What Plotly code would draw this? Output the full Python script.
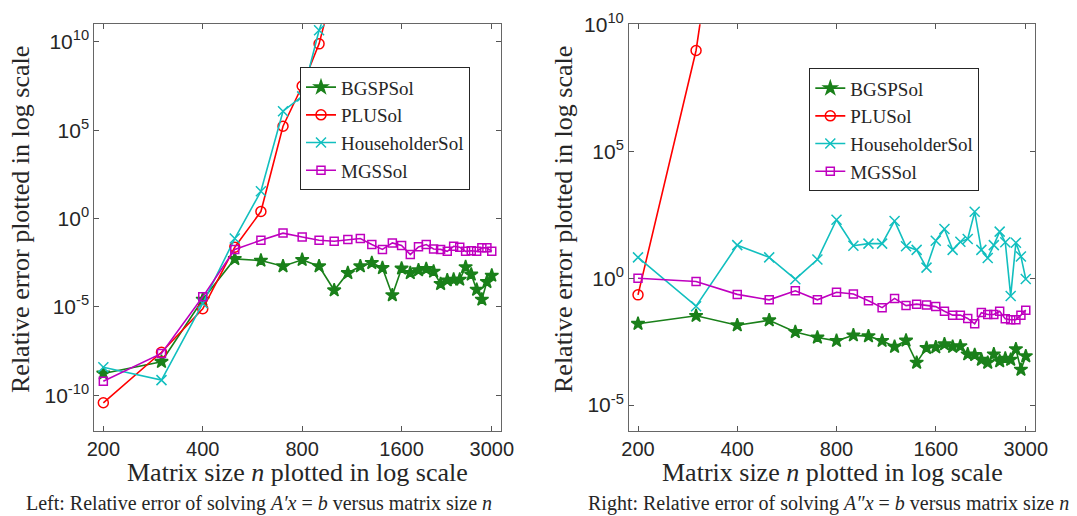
import plotly.graph_objects as go

# ---------------- data ----------------
n = [200, 300, 400, 500, 600, 700, 800, 900, 1000, 1100, 1200, 1300, 1400, 1500,
     1600, 1700, 1800, 1900, 2000, 2100, 2200, 2300, 2400, 2500, 2600, 2700,
     2800, 2900, 3000]

series_names = ["BGSPSol", "PLUSol", "HouseholderSol", "MGSSol"]

left_bgsp = [1.7e-9, 7.8e-9, 2.6e-5, 5.2e-3, 4.2e-3, 2.0e-3, 4.6e-3, 2.0e-3, 8.7e-5,
             8.3e-4, 2.0e-3, 3.1e-3, 1.6e-3, 4.6e-5, 1.5e-3, 8.3e-4, 1.2e-3, 1.4e-3,
             1.0e-3, 2.0e-4, 3.2e-4, 3.5e-4, 3.5e-4, 1.8e-3, 6.8e-4, 9.5e-5, 2.6e-5,
             2.6e-4, 5.9e-4]
left_plu = [3.7e-11, 2.7e-8, 7.8e-6, 2.4e-2, 2.5, 1.7e5, 3.2e7, 7.8e9, 1.6e13] + [None] * 20
left_householder = [3.8e-9, 7.1e-10, 1.6e-5, 7.4e-2, 35, 1.2e6, 8.3e6, 4.6e10, 1.0e13] + [None] * 20
left_mgs = [6.2e-10, 2.3e-8, 3.7e-5, 1.8e-2, 5.9e-2, 0.15, 9.1e-2, 5.9e-2, 5.2e-2,
            6.5e-2, 7.4e-2, 3.4e-2, 1.8e-2, 4.2e-2, 3.0e-2, 9.1e-3, 2.5e-2, 3.4e-2,
            1.9e-2, 1.8e-2, 1.4e-2, 2.7e-2, 2.4e-2, 1.4e-2, 1.5e-2, 1.4e-2, 2.2e-2,
            2.2e-2, 1.4e-2]

right_bgsp = [1.6e-2, 3.3e-2, 1.4e-2, 2.2e-2, 7.6e-3, 4.6e-3, 3.4e-3, 5.6e-3, 5.2e-3,
              3.4e-3, 2.0e-3, 3.5e-3, 4.7e-4, 1.8e-3, 1.9e-3, 2.5e-3, 2.0e-3, 2.1e-3,
              1.0e-3, 9.5e-4, 6.2e-4, 4.7e-4, 1.0e-3, 5.4e-4, 6.8e-4, 6.2e-4, 1.6e-3,
              2.5e-4, 8.5e-4]
right_plu = [0.22, 9.3e8, 1.0e20] + [None] * 26
right_householder = [6.6, 7.9e-2, 20, 6.6, 0.91, 5.4, 200, 19, 23, 23, 180, 18, 13, 2.6,
                     30, 87, 13, 27, 35, 410, 13, 6.2, 20, 68, 26, 0.2, 25, 7.2, 0.93]
right_mgs = [1.0, 0.74, 0.23, 0.14, 0.32, 0.14, 0.28, 0.24, 0.13, 6.9e-2, 0.16, 8.3e-2,
             9.5e-2, 8.7e-2, 7.6e-2, 5.0e-2, 3.5e-2, 3.5e-2, 2.6e-2, 1.6e-2, 4.4e-2,
             3.7e-2, 3.7e-2, 5.0e-2, 2.5e-2, 2.3e-2, 2.3e-2, 3.5e-2, 5.5e-2]

x_ticks = [200, 400, 800, 1600, 3000]
x_ticklabels = ["200", "400", "800", "1600", "3000"]
left_y_ticks = [1e-10, 1e-5, 1, 1e5, 1e10]
left_y_ticklabels = ["10<sup>-10</sup>", "10<sup>-5</sup>", "10<sup>0</sup>",
                     "10<sup>5</sup>", "10<sup>10</sup>"]
right_y_ticks = [1e-5, 1, 1e5, 1e10]
right_y_ticklabels = ["10<sup>-5</sup>", "10<sup>0</sup>", "10<sup>5</sup>", "10<sup>10</sup>"]

x_title = "Matrix size <i>n</i> plotted in log scale"
y_title = "Relative error plotted in log scale"
left_caption = "Left: Relative error of solving <i>A′x</i> = <i>b</i> versus matrix size <i>n</i>"
right_caption = "Right: Relative error of solving <i>A″x</i> = <i>b</i> versus matrix size <i>n</i>"

# ---------------- styles ----------------
colors = ["#1a801a", "#ff0000", "#12bfbf", "#bf00bf"]
symbols = ["star", "circle-open", "x-thin-open", "square-open"]
msizes = [10, 10, 10, 8]
SERIF = "Liberation Serif"
SANS = "Liberation Sans"
W, H = 1077, 516

fig = go.Figure()

def add_panel(ys, xa, ya, legend):
    for i, (name, y) in enumerate(zip(series_names, ys)):
        fig.add_trace(go.Scatter(
            x=n, y=y, name=name, mode="lines+markers",
            xaxis=xa, yaxis=ya, legend=legend,
            line=dict(color=colors[i], width=1.6),
            marker=dict(symbol=symbols[i], size=msizes[i], color=colors[i],
                        line=dict(color=colors[i], width=1.5)),
            connectgaps=False, cliponaxis=True,
        ))

add_panel([left_bgsp, left_plu, left_householder, left_mgs], "x", "y", "legend")
add_panel([right_bgsp, right_plu, right_householder, right_mgs], "x2", "y2", "legend2")

ydom = [1 - 430.5 / H, 1 - 24.3 / H]
axis_common = dict(type="log", showgrid=False, zeroline=False, showline=True,
                   linecolor="#666666", linewidth=1, mirror="ticks", ticks="inside",
                   ticklen=5, tickcolor="#555555", tickwidth=1)

xrange = [2.2737, 3.5051]
legend_common = dict(xanchor="left", yanchor="top", bgcolor="white",
                     bordercolor="#262626", borderwidth=1,
                     font=dict(family=SERIF, size=19, color="#262626"),
                     tracegroupgap=0, itemwidth=30, itemsizing="trace")
fig.update_layout(
    width=W, height=H,
    margin=dict(l=0, r=0, t=0, b=0, autoexpand=False),
    paper_bgcolor="white", plot_bgcolor="white",
    xaxis=dict(domain=[94.3 / W, 501 / W], anchor="y", range=xrange,
               tickvals=x_ticks, ticktext=x_ticklabels,
               tickfont=dict(family=SANS, size=20, color="#262626"), **axis_common),
    yaxis=dict(domain=ydom, anchor="x", range=[-12, 11],
               tickvals=left_y_ticks, ticktext=left_y_ticklabels,
               tickfont=dict(family=SANS, size=21, color="#262626"), **axis_common),
    xaxis2=dict(domain=[629 / W, 1035 / W], anchor="y2", range=xrange,
                tickvals=x_ticks, ticktext=x_ticklabels,
                tickfont=dict(family=SANS, size=20, color="#262626"), **axis_common),
    yaxis2=dict(domain=ydom, anchor="x2", range=[-6, 10],
                tickvals=right_y_ticks, ticktext=right_y_ticklabels,
                tickfont=dict(family=SANS, size=21, color="#262626"), **axis_common),
    legend=dict(x=300 / W, y=1 - 67.3 / H, **legend_common),
    legend2=dict(x=809.3 / W, y=1 - 68.3 / H, **legend_common),
    showlegend=True,
)

def ann(text, x, y, size, angle=0):
    fig.add_annotation(text=text, x=x / W, y=1 - y / H, xref="paper", yref="paper",
                       showarrow=False, textangle=angle, xanchor="center", yanchor="middle",
                       font=dict(family=SERIF, size=size, color="#262626"))

ann(x_title, 297.5, 472, 26)
ann(x_title, 832, 472, 26)
ann(y_title, 20, 220, 26, -90)
ann(y_title, 563, 220, 26, -90)
ann(left_caption, 259, 503, 20)
ann(right_caption, 828, 503, 20)

fig.write_html("out.html")
